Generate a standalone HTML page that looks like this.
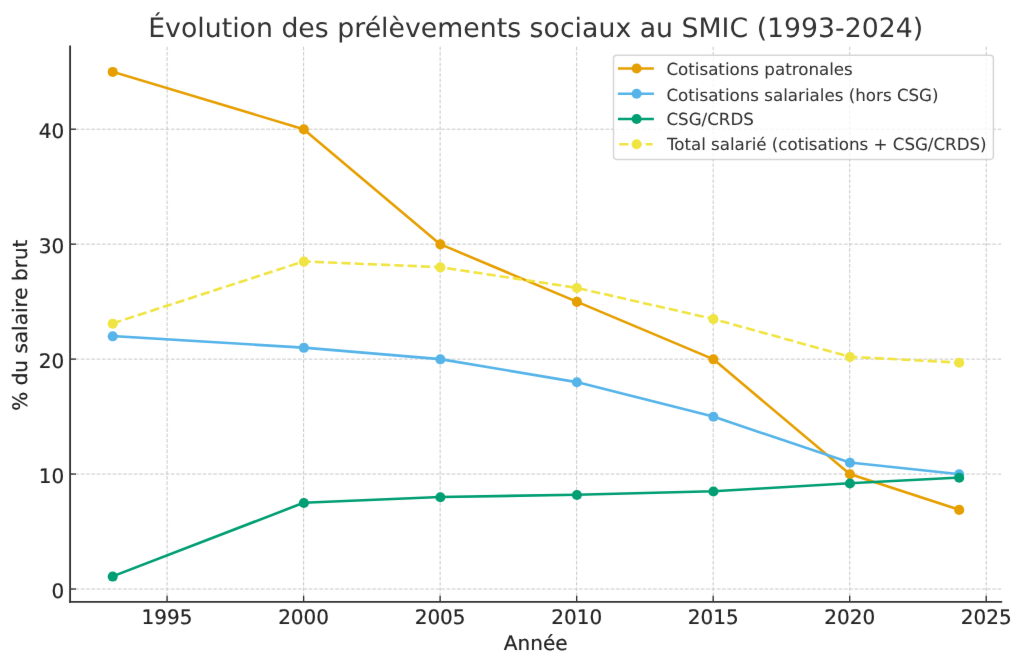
<!DOCTYPE html>
<html lang="fr">
<head>
<meta charset="utf-8">
<title>Évolution des prélèvements sociaux au SMIC (1993-2024)</title>
<style>
html,body{margin:0;padding:0;background:#fff;}
body{width:1024px;height:666px;overflow:hidden;}
svg{display:block;}
text{font-family:"DejaVu Sans","Liberation Sans",sans-serif;text-rendering:geometricPrecision;}
.tk{font-size:20.03px;fill:#222222;stroke:#222222;stroke-width:0.2px;}
.lg{font-size:16.7px;fill:#333333;stroke:#333333;stroke-width:0.05px;}
</style>
</head>
<body>
<svg width="1024" height="666" viewBox="0 0 1024 666">
<defs><filter id="soft" x="0" y="0" width="100%" height="100%" color-interpolation-filters="sRGB"><feConvolveMatrix order="3" kernelMatrix="0.0028 0.0470 0.0028 0.0470 0.8008 0.0470 0.0028 0.0470 0.0028" divisor="1" edgeMode="duplicate" preserveAlpha="false"/></filter></defs>
<g filter="url(#soft)">
<rect x="0" y="0" width="1024" height="666" fill="#ffffff"/>
<g fill="none" stroke="#c8c8c8" stroke-width="1" stroke-dasharray="3.7 1.6">
<line x1="167.08" y1="601.6" x2="167.08" y2="46.5"/>
<line x1="303.61" y1="601.6" x2="303.61" y2="46.5"/>
<line x1="440.13" y1="601.6" x2="440.13" y2="46.5"/>
<line x1="576.66" y1="601.6" x2="576.66" y2="46.5"/>
<line x1="713.18" y1="601.6" x2="713.18" y2="46.5"/>
<line x1="849.71" y1="601.6" x2="849.71" y2="46.5"/>
<line x1="986.23" y1="601.6" x2="986.23" y2="46.5"/>
<line x1="70.15" y1="589.01" x2="1001.25" y2="589.01"/>
<line x1="70.15" y1="474.06" x2="1001.25" y2="474.06"/>
<line x1="70.15" y1="359.11" x2="1001.25" y2="359.11"/>
<line x1="70.15" y1="244.16" x2="1001.25" y2="244.16"/>
<line x1="70.15" y1="129.21" x2="1001.25" y2="129.21"/>
</g>
<g fill="none" stroke="#333333" stroke-width="1.35">
<line x1="167.08" y1="601.9" x2="167.08" y2="595.76"/>
<line x1="303.61" y1="601.9" x2="303.61" y2="595.76"/>
<line x1="440.13" y1="601.9" x2="440.13" y2="595.76"/>
<line x1="576.66" y1="601.9" x2="576.66" y2="595.76"/>
<line x1="713.18" y1="601.9" x2="713.18" y2="595.76"/>
<line x1="849.71" y1="601.9" x2="849.71" y2="595.76"/>
<line x1="986.23" y1="601.9" x2="986.23" y2="595.76"/>
<line x1="70.15" y1="589.01" x2="75.99" y2="589.01"/>
<line x1="70.15" y1="474.06" x2="75.99" y2="474.06"/>
<line x1="70.15" y1="359.11" x2="75.99" y2="359.11"/>
<line x1="70.15" y1="244.16" x2="75.99" y2="244.16"/>
<line x1="70.15" y1="129.21" x2="75.99" y2="129.21"/>
</g>
<polyline points="112.47,71.73 303.61,129.21 440.13,244.16 576.66,301.63 713.18,359.11 849.71,474.06 958.93,509.7" fill="none" stroke="#E69F00" stroke-width="2.6" stroke-linejoin="round" stroke-linecap="square"/>
<g fill="#E69F00"><circle cx="112.72" cy="71.93" r="5.05"/><circle cx="303.86" cy="129.41" r="5.05"/><circle cx="440.38" cy="244.36" r="5.05"/><circle cx="576.91" cy="301.83" r="5.05"/><circle cx="713.43" cy="359.31" r="5.05"/><circle cx="849.96" cy="474.26" r="5.05"/><circle cx="959.18" cy="509.9" r="5.05"/></g>
<polyline points="112.47,336.12 303.61,347.62 440.13,359.11 576.66,382.1 713.18,416.59 849.71,462.57 958.93,474.06" fill="none" stroke="#56B4E9" stroke-width="2.6" stroke-linejoin="round" stroke-linecap="square"/>
<g fill="#56B4E9"><circle cx="112.72" cy="336.32" r="5.05"/><circle cx="303.86" cy="347.82" r="5.05"/><circle cx="440.38" cy="359.31" r="5.05"/><circle cx="576.91" cy="382.3" r="5.05"/><circle cx="713.43" cy="416.79" r="5.05"/><circle cx="849.96" cy="462.77" r="5.05"/><circle cx="959.18" cy="474.26" r="5.05"/></g>
<polyline points="112.47,576.37 303.61,502.8 440.13,497.05 576.66,494.75 713.18,491.3 849.71,483.26 958.93,477.51" fill="none" stroke="#009E73" stroke-width="2.6" stroke-linejoin="round" stroke-linecap="square"/>
<g fill="#009E73"><circle cx="112.72" cy="576.57" r="5.05"/><circle cx="303.86" cy="503" r="5.05"/><circle cx="440.38" cy="497.25" r="5.05"/><circle cx="576.91" cy="494.95" r="5.05"/><circle cx="713.43" cy="491.5" r="5.05"/><circle cx="849.96" cy="483.46" r="5.05"/><circle cx="959.18" cy="477.71" r="5.05"/></g>
<polyline points="112.47,323.48 303.61,261.4 440.13,267.15 576.66,287.84 713.18,318.88 849.71,356.81 958.93,362.56" fill="none" stroke="#F0E442" stroke-width="2.6" stroke-linejoin="round" stroke-dasharray="9.26 4" stroke-linecap="butt"/>
<g fill="#F0E442"><circle cx="112.72" cy="323.68" r="5.05"/><circle cx="303.86" cy="261.6" r="5.05"/><circle cx="440.38" cy="267.35" r="5.05"/><circle cx="576.91" cy="288.04" r="5.05"/><circle cx="713.43" cy="319.08" r="5.05"/><circle cx="849.96" cy="357.01" r="5.05"/><circle cx="959.18" cy="362.76" r="5.05"/></g>
<g fill="none" stroke="#333333" stroke-width="1.85" stroke-linecap="square">
<line x1="70.1" y1="601.9" x2="70.1" y2="46.5"/>
<line x1="70.1" y1="601.9" x2="1001.25" y2="601.9"/>
</g>
<g class="tk" text-anchor="middle">
<text x="167.08" y="624">1995</text>
<text x="303.61" y="624">2000</text>
<text x="440.13" y="624">2005</text>
<text x="576.66" y="624">2010</text>
<text x="713.18" y="624">2015</text>
<text x="849.71" y="624">2020</text>
<text x="986.23" y="624">2025</text>
</g>
<g class="tk" text-anchor="end">
<text x="64.3" y="598">0</text>
<text x="64.3" y="483">10</text>
<text x="64.3" y="368">20</text>
<text x="64.3" y="253">30</text>
<text x="64.3" y="138">40</text>
</g>
<text class="tk" text-anchor="middle" x="535.7" y="650">Année</text>
<text class="tk" text-anchor="middle" transform="translate(27 325.15) rotate(-90)">% du salaire brut</text>
<text text-anchor="middle" x="535.7" y="37" font-size="26.72" fill="#333333" stroke="#333333" stroke-width="0" textLength="775" lengthAdjust="spacing">Évolution des prélèvements sociaux au SMIC (1993-2024)</text>
<rect x="613.5" y="55.25" width="379.9" height="104.15" rx="3.3" ry="3.3" fill="#ffffff" fill-opacity="0.8" stroke="#cccccc" stroke-opacity="0.8" stroke-width="1.5"/>
<line x1="619.2" y1="68.45" x2="652.6" y2="68.45" stroke="#E69F00" stroke-width="2.6" stroke-linecap="square"/><circle cx="636.6" cy="68.45" r="5.05" fill="#E69F00"/>
<text class="lg" x="666.4" y="75">Cotisations patronales</text>
<line x1="619.2" y1="93.7" x2="652.6" y2="93.7" stroke="#56B4E9" stroke-width="2.6" stroke-linecap="square"/><circle cx="636.6" cy="93.7" r="5.05" fill="#56B4E9"/>
<text class="lg" x="666.4" y="101">Cotisations salariales (hors CSG)</text>
<line x1="619.2" y1="119" x2="652.6" y2="119" stroke="#009E73" stroke-width="2.6" stroke-linecap="square"/><circle cx="636.6" cy="119" r="5.05" fill="#009E73"/>
<text class="lg" x="666.4" y="125">CSG/CRDS</text>
<line x1="619.2" y1="144.2" x2="652.6" y2="144.2" stroke="#F0E442" stroke-width="2.6" stroke-dasharray="9.26 4"/><circle cx="636.6" cy="144.2" r="5.05" fill="#F0E442"/>
<text class="lg" x="666.9" y="150" textLength="319.7" lengthAdjust="spacing">Total salarié (cotisations + CSG/CRDS)</text>
</g>
</svg>
</body>
</html>
